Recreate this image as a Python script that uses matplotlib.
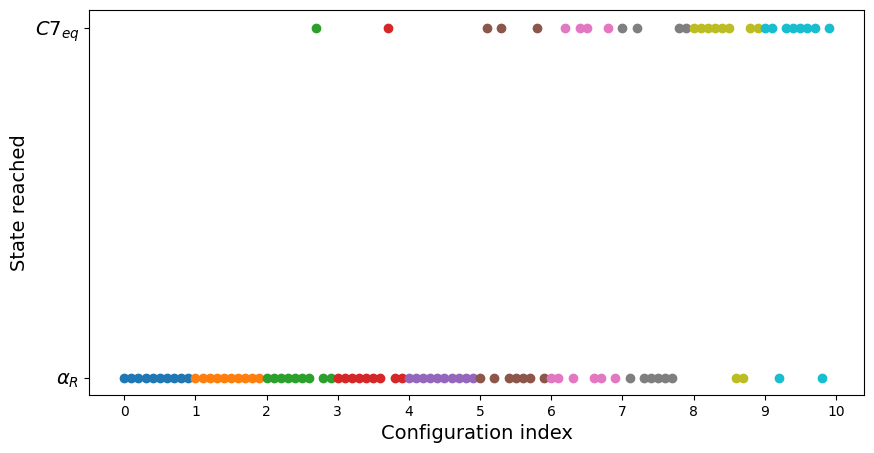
import numpy as np
import matplotlib
matplotlib.use("Agg")
import matplotlib.pyplot as plt

# state reached for each of 10 runs per configuration (0 = alpha_R, 1 = C7eq)
states_0 = [0, 0, 0, 0, 0, 0, 0, 0, 0, 0]
states_1 = [0, 0, 0, 0, 0, 0, 0, 0, 0, 0]
states_2 = [0, 0, 0, 0, 0, 0, 0, 1, 0, 0]
states_3 = [0, 0, 0, 0, 0, 0, 0, 1, 0, 0]
states_4 = [0, 0, 0, 0, 0, 0, 0, 0, 0, 0]
states_5 = [0, 1, 0, 1, 0, 0, 0, 0, 1, 0]
states_6 = [0, 0, 1, 0, 1, 1, 0, 0, 1, 0]
states_7 = [1, 0, 1, 0, 0, 0, 0, 0, 1, 1]
states_8 = [1, 1, 1, 1, 1, 1, 0, 0, 1, 1]
states_9 = [1, 1, 0, 1, 1, 1, 1, 1, 0, 1]

all_states = [states_0, states_1, states_2, states_3, states_4,
              states_5, states_6, states_7, states_8, states_9]
state_labels = [r'$\alpha_R$', r'$C7_{eq}$']

fig = plt.figure(figsize=(8.74, 4.53), dpi=100)
ax = fig.add_axes([89 / 874, 1 - 395 / 453, 775 / 874, 385 / 453])

for i, states in enumerate(all_states):
    x = i + np.arange(len(states)) / 10
    ax.scatter(x, states)

ax.set_xticks(range(11))
ax.set_yticks([0, 1])
ax.set_yticklabels(state_labels, fontsize=14)
ax.set_xlabel('Configuration index', fontsize=14)
ax.set_ylabel('State reached', fontsize=14)

fig.savefig('out.png', dpi=100)
